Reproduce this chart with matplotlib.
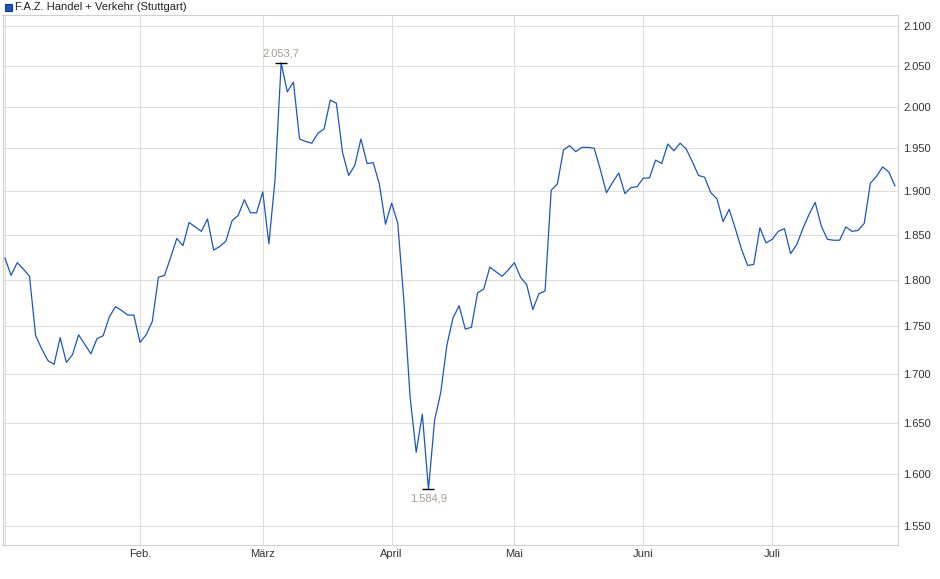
import matplotlib
matplotlib.use('Agg')
import matplotlib.pyplot as plt
from matplotlib.patches import Rectangle
from matplotlib.ticker import FixedLocator, FuncFormatter, NullLocator

# Tagesschlusskurse (Handelstage ab 2. Januar)
werte = [
    1824, 1805, 1819, 1812, 1804, 1740, 1726, 1714, 1710, 1738,
    1712, 1720, 1741, 1731, 1721, 1737, 1740, 1760, 1771, 1767,
    1762, 1762, 1733, 1741, 1755, 1803, 1805, 1825, 1846, 1838,
    1864, 1859, 1854, 1868, 1833, 1837, 1843, 1866, 1872, 1890,
    1875, 1875, 1899, 1840, 1913, 2053.7, 2018, 2030, 1961, 1958,
    1956, 1968, 1973, 2008, 2004, 1945, 1918, 1930, 1961, 1932,
    1933, 1908, 1862, 1886, 1863, 1777, 1677, 1621, 1659, 1584.9,
    1653, 1681, 1730, 1759, 1772, 1747, 1749, 1786, 1790, 1814,
    1809, 1804, 1811, 1819, 1803, 1795, 1768, 1785, 1788, 1901,
    1908, 1948, 1953, 1946, 1951, 1951, 1950, 1925, 1898, 1910,
    1921, 1897, 1904, 1905, 1915, 1915, 1936, 1932, 1955, 1947,
    1956, 1949, 1934, 1918, 1916, 1898, 1891, 1865, 1879, 1857,
    1834, 1816, 1817, 1858, 1841, 1845, 1854, 1857, 1829, 1839,
    1857, 1873, 1887, 1860, 1845, 1844, 1844, 1859, 1854, 1855,
    1863, 1909, 1917, 1928, 1922, 1906,
]
monate = ['Feb.', 'März', 'April', 'Mai', 'Juni', 'Juli']
monat_index = [22, 42, 63, 83, 104, 125]
y_ticks = [1550, 1600, 1650, 1700, 1750, 1800, 1850, 1900, 1950, 2000, 2050, 2100]

plt.rcParams['font.family'] = ['Liberation Sans', 'DejaVu Sans']

fig = plt.figure(figsize=(9.4, 5.79), dpi=100)
ax = fig.add_axes([2.5 / 940, 1 - 545 / 579, 895.5 / 940, 530 / 579])

x = list(range(len(werte)))
ax.plot(x, werte, color='#1a56c4', linewidth=0.9, zorder=3)

ax.set_yscale('log')
ax.set_ylim(1532.2, 2114.5)
ax.set_xlim(-0.4, 145.5)

ax.yaxis.set_major_locator(FixedLocator(y_ticks))
ax.yaxis.set_minor_locator(NullLocator())
ax.yaxis.set_major_formatter(FuncFormatter(lambda v, p: f'{v:,.0f}'.replace(',', '.')))
ax.yaxis.tick_right()
ax.set_xticks(monat_index)
ax.set_xticklabels(monate)
ax.set_xticks([0], minor=True)

ax.grid(True, which='both', color='#dddddd', linewidth=0.8, zorder=0)
ax.tick_params(axis='both', which='both', length=0, labelsize=8, colors='#333333')
ax.tick_params(axis='y', pad=4)
ax.tick_params(axis='x', pad=3)

for s in ax.spines.values():
    s.set_color('#d0d0d0')
    s.set_linewidth(0.8)

# Hoch und Tief markieren
i_max = werte.index(max(werte))
i_min = werte.index(min(werte))
ax.plot([i_max], [werte[i_max]], marker='_', markersize=8, color='black', mew=1.0, zorder=4)
ax.plot([i_min], [werte[i_min]], marker='_', markersize=8, color='black', mew=1.0, zorder=4)
ax.annotate('2.053,7', (i_max, werte[i_max]), xytext=(0, 3), textcoords='offset points',
            ha='center', va='bottom', fontsize=8, color='#a89c8e')
ax.annotate('1.584,9', (i_min, werte[i_min]), xytext=(0, -3), textcoords='offset points',
            ha='center', va='top', fontsize=8, color='#a89c8e')

# Legende oben links
fig.patches.append(Rectangle((5 / 940, 1 - 11 / 579), 7 / 940, 7 / 579,
                             transform=fig.transFigure, facecolor='#1a56c4',
                             edgecolor='#1a3a80', linewidth=0.8))
fig.text(15 / 940, 1 - 6.5 / 579, 'F.A.Z. Handel + Verkehr (Stuttgart)',
         fontsize=8, color='#222222', va='center', ha='left')

plt.savefig('out.png', dpi=100)
plt.close(fig)
